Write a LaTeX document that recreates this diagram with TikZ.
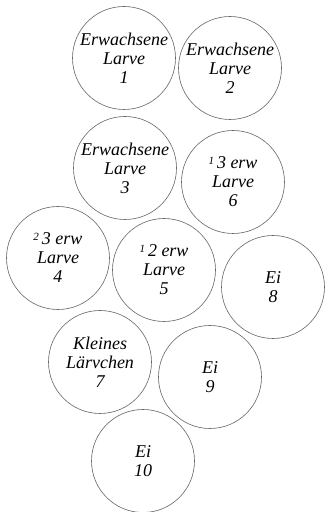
\documentclass[tikz,border=0pt]{standalone}
\usepackage{fontspec}
\setmainfont{Liberation Serif}
\begin{document}
\begin{tikzpicture}[x=1pt,y=1pt,
  cell/.style={circle,draw=black!60,line width=0.6pt,minimum size=#1,inner sep=0pt},
  cell/.default=103pt,
  lbl/.style={align=center,font=\fontsize{18}{19}\selectfont\itshape}]
\useasboundingbox[fill=white] (0,0) rectangle (328,512);
\newcommand{\fr}[2]{\raisebox{0.5ex}{\fontsize{11}{11}\selectfont #1}\,#2}
\node[cell] (c1) at (124,454) {};
\node[cell] (c2) at (230,444) {};
\node[cell] (c3) at (125,344) {};
\node[cell] (c6) at (233,330) {};
\node[cell] (c4) at (58,254) {};
\node[cell] (c5) at (164,242) {};
\node[cell] (c8) at (273,225) {};
\node[cell] (c7) at (100,150) {};
\node[cell] (c9) at (210,135) {};
\node[cell] (c10) at (143,51) {};
\node[lbl] (t1) at (c1) {Erwachsene\\Larve\\1};
\node[lbl] (t2) at (c2) {Erwachsene\\Larve\\2};
\node[lbl] (t3) at (c3) {Erwachsene\\Larve\\3};
\node[lbl] (t6) at (c6) {\fr{1}{3} erw\\Larve\\6};
\node[lbl] (t4) at (c4) {\fr{2}{3} erw\\Larve\\4};
\node[lbl] (t5) at (c5) {\fr{1}{2} erw\\Larve\\5};
\node[lbl] (t8) at (c8) {Ei\\8};
\node[lbl] (t7) at (c7) {Kleines\\Lärvchen\\7};
\node[lbl] (t9) at (c9) {Ei\\9};
\node[lbl] (t10) at (c10) {Ei\\10};
\end{tikzpicture}
\end{document}
